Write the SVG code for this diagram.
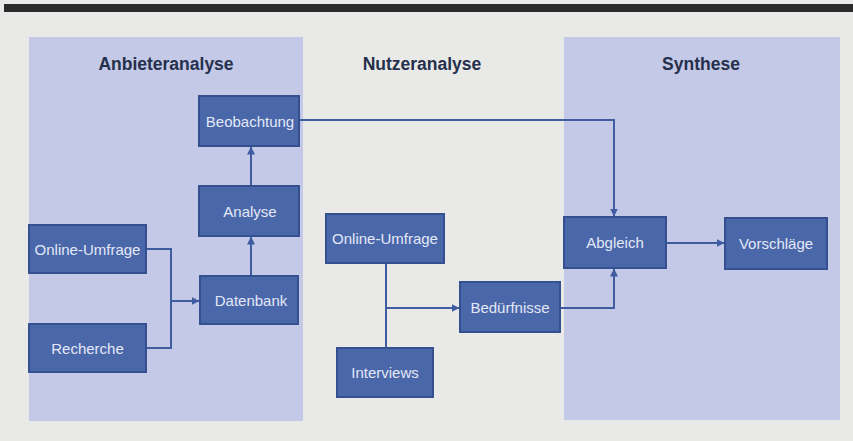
<svg xmlns="http://www.w3.org/2000/svg" width="853" height="441" viewBox="0 0 853 441">
<defs>
<style>
.panel{fill:#c3c9e6}
.node rect{fill:#4a67aa;stroke:#34508f;stroke-width:2}
.node text{fill:#e3e8f6;font-family:"Liberation Sans",Arial,sans-serif;font-size:15px;text-anchor:middle;dominant-baseline:central}
.head{fill:#26304d;font-family:"Liberation Sans",Arial,sans-serif;font-size:17.5px;font-weight:bold;text-anchor:middle}
.conn path{fill:none;stroke:#3f5da0;stroke-width:2}
</style>
<marker id="ah" viewBox="0 0 8 8" refX="7.5" refY="4" markerWidth="4" markerHeight="4" orient="auto" markerUnits="strokeWidth">
<path d="M0,0 L8,4 L0,8 z" fill="#3f5da0"/>
</marker>
</defs>
<rect x="0" y="0" width="853" height="441" fill="#e9e9e7"/>
<rect x="4" y="4" width="849" height="8" fill="#2b2b2b"/>
<rect class="panel" x="29" y="37" width="274" height="384"/>
<rect class="panel" x="564" y="37" width="276" height="383"/>
<text class="head" x="166" y="70">Anbieteranalyse</text>
<text class="head" x="422" y="70">Nutzeranalyse</text>
<text class="head" x="701" y="70">Synthese</text>
<g class="conn">
<path d="M146,249 H171 V348 H146"/>
<path d="M171,301 H199" marker-end="url(#ah)"/>
<path d="M251,276 V237" marker-end="url(#ah)"/>
<path d="M251,186 V147" marker-end="url(#ah)"/>
<path d="M299,120 H614 V216" marker-end="url(#ah)"/>
<path d="M666,243 H724" marker-end="url(#ah)"/>
<path d="M386,263 V348"/>
<path d="M386,308 H459" marker-end="url(#ah)"/>
<path d="M560,308 H614 V269" marker-end="url(#ah)"/>
</g>
<g id="beobachtung" class="node"><rect x="199" y="96" width="100" height="50"/><text x="250" y="121">Beobachtung</text></g>
<g id="analyse" class="node"><rect x="199" y="186" width="100" height="50"/><text x="250" y="211">Analyse</text></g>
<g id="online-umfrage-1" class="node"><rect x="29" y="225" width="117" height="48"/><text x="87.5" y="249">Online-Umfrage</text></g>
<g id="datenbank" class="node"><rect x="200" y="276" width="98" height="48"/><text x="251" y="300">Datenbank</text></g>
<g id="recherche" class="node"><rect x="29" y="324" width="117" height="48"/><text x="87.5" y="348">Recherche</text></g>
<g id="online-umfrage-2" class="node"><rect x="326" y="214" width="118" height="49"/><text x="385" y="238.5">Online-Umfrage</text></g>
<g id="interviews" class="node"><rect x="337" y="348" width="96" height="49"/><text x="385" y="372.5">Interviews</text></g>
<g id="beduerfnisse" class="node"><rect x="460" y="282" width="100" height="50"/><text x="510" y="307">Bedürfnisse</text></g>
<g id="abgleich" class="node"><rect x="564" y="217" width="102" height="51"/><text x="615" y="242.5">Abgleich</text></g>
<g id="vorschlaege" class="node"><rect x="725" y="218" width="102" height="51"/><text x="776" y="243.5">Vorschläge</text></g>
</svg>
